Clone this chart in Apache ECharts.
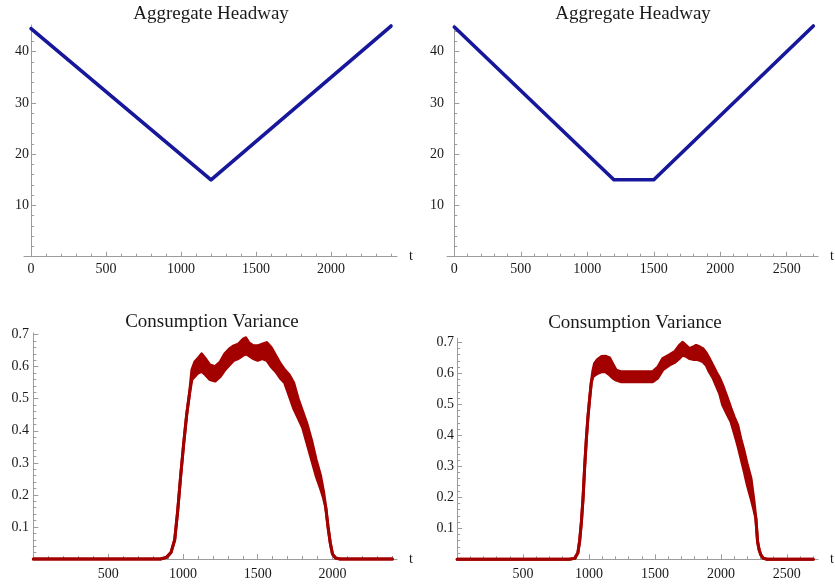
<!DOCTYPE html>
<html><head><meta charset="utf-8">
<script src="https://cdn.jsdelivr.net/npm/echarts@6/dist/echarts.min.js"></script>
<style>html,body{margin:0;padding:0;background:#fff}#c{width:835px;height:584px}</style>
</head><body><div id="c"></div>
<script>
// ---- data ----
const titles = ['Aggregate Headway', 'Aggregate Headway', 'Consumption Variance', 'Consumption Variance'];

const headwayLT = [0, 1200, 2400];
const headwayLV = [44.5, 15, 45];
const headwayRT = [0, 1200, 1500, 2700];
const headwayRV = [44.8, 15, 15, 45];

const varLT = [0, 850, 890, 920, 945, 965, 985, 1005, 1025, 1045, 1060, 1080, 1100, 1125, 1150, 1180, 1215, 1250, 1280, 1310, 1340, 1370, 1400, 1420, 1440, 1470, 1500, 1530, 1560, 1590, 1620, 1650, 1680, 1710, 1740, 1770, 1800, 1830, 1860, 1890, 1920, 1940, 1955, 1970, 1985, 2000, 2020, 2050, 2400];
const varLHigh = [0, 0, 0.005, 0.02, 0.06, 0.15, 0.26, 0.36, 0.45, 0.52, 0.59, 0.615, 0.625, 0.64, 0.625, 0.605, 0.60, 0.615, 0.64, 0.655, 0.665, 0.67, 0.685, 0.69, 0.675, 0.665, 0.665, 0.67, 0.675, 0.66, 0.635, 0.61, 0.59, 0.575, 0.55, 0.5, 0.46, 0.42, 0.37, 0.31, 0.26, 0.21, 0.16, 0.10, 0.05, 0.015, 0.003, 0, 0];
const varLLow = [0, 0, 0.005, 0.02, 0.06, 0.15, 0.26, 0.36, 0.45, 0.52, 0.56, 0.57, 0.58, 0.585, 0.575, 0.56, 0.555, 0.57, 0.59, 0.605, 0.62, 0.625, 0.635, 0.64, 0.635, 0.625, 0.62, 0.625, 0.62, 0.6, 0.585, 0.565, 0.55, 0.51, 0.47, 0.44, 0.41, 0.36, 0.31, 0.26, 0.22, 0.19, 0.16, 0.10, 0.05, 0.015, 0.003, 0, 0];

const varRT = [0, 850, 891, 915, 929, 942, 955, 967, 980, 992, 1005, 1017, 1030, 1042, 1065, 1093, 1125, 1156, 1180, 1206, 1240, 1300, 1360, 1420, 1482, 1521, 1559, 1610, 1650, 1685, 1710, 1735, 1761, 1790, 1812, 1840, 1862, 1890, 1912, 1940, 1963, 1990, 2013, 2045, 2076, 2100, 2127, 2150, 2177, 2200, 2228, 2250, 2265, 2278, 2290, 2303, 2320, 2350, 2700];
const varRHigh = [0, 0, 0.003, 0.02, 0.06, 0.12, 0.2, 0.3, 0.39, 0.46, 0.52, 0.57, 0.61, 0.632, 0.645, 0.654, 0.655, 0.65, 0.63, 0.61, 0.605, 0.605, 0.605, 0.605, 0.605, 0.62, 0.648, 0.66, 0.67, 0.69, 0.7, 0.69, 0.68, 0.685, 0.69, 0.685, 0.68, 0.665, 0.648, 0.625, 0.605, 0.585, 0.562, 0.525, 0.487, 0.46, 0.433, 0.39, 0.347, 0.305, 0.261, 0.19, 0.132, 0.057, 0.03, 0.014, 0.004, 0, 0];
const varRLow = [0, 0, 0.003, 0.02, 0.06, 0.12, 0.2, 0.3, 0.39, 0.46, 0.52, 0.57, 0.59, 0.595, 0.6, 0.605, 0.605, 0.595, 0.585, 0.578, 0.573, 0.573, 0.573, 0.573, 0.573, 0.585, 0.611, 0.627, 0.635, 0.648, 0.659, 0.655, 0.648, 0.645, 0.645, 0.642, 0.638, 0.625, 0.605, 0.585, 0.562, 0.535, 0.498, 0.47, 0.444, 0.41, 0.369, 0.33, 0.283, 0.24, 0.197, 0.16, 0.132, 0.057, 0.03, 0.014, 0.004, 0, 0];

// tick labels
const xLabelsTL = [0, 500, 1000, 1500, 2000];
const xLabelsTR = [0, 500, 1000, 1500, 2000, 2500];
const xLabelsBL = [500, 1000, 1500, 2000];
const xLabelsBR = [500, 1000, 1500, 2000, 2500];
const yLabelsTop = [10, 20, 30, 40];
const yLabelsBottom = [0.1, 0.2, 0.3, 0.4, 0.5, 0.6, 0.7];

// ---- styling / layout ----
const FONT = 'Liberation Serif';
const AX = '#9c9c9c';
const TXT = '#1a1a1a';
const BLUE = '#17179c';
const RED = '#a30000';

function minorList(max, step, majorEvery) {
  const out = [];
  for (let i = 1; i * step <= max + 1e-9; i++) {
    if (i % majorEvery !== 0) out.push(+(i * step).toFixed(4));
  }
  return out;
}
function majorList(max, step) {
  const out = [];
  for (let i = 1; i * step <= max + 1e-9; i++) out.push(+(i * step).toFixed(4));
  return out;
}

const grids = [
  {left: 24, top: 25, width: 373, height: 231.7, xmin: -47, xmax: 2440, ymin: 0, ymax: 45.2,
   xl: xLabelsTL, yl: yLabelsTop, xStep: 500, xMinStep: 100, yStep: 10, yMinStep: 2, xm: 6, ym: -5, yfmt: v => String(v)},
  {left: 447, top: 25, width: 372, height: 231.7, xmin: -55, xmax: 2736, ymin: 0, ymax: 45.2,
   xl: xLabelsTR, yl: yLabelsTop, xStep: 500, xMinStep: 100, yStep: 10, yMinStep: 2, xm: 6, ym: 3, yfmt: v => String(v)},
  {left: 32.6, top: 333, width: 364.4, height: 226, xmin: -5, xmax: 2431, ymin: 0, ymax: 0.705,
   xl: xLabelsBL, yl: yLabelsBottom, xStep: 500, xMinStep: 100, yStep: 0.1, yMinStep: 0.02, xm: 8, ym: 3.5, yfmt: v => v.toFixed(1)},
  {left: 456.5, top: 338.3, width: 362.5, height: 221, xmin: -5, xmax: 2737, ymin: 0, ymax: 0.713,
   xl: xLabelsBR, yl: yLabelsBottom, xStep: 500, xMinStep: 100, yStep: 0.1, yMinStep: 0.02, xm: 8, ym: 2.5, yfmt: v => v.toFixed(1)}
];

const option = {
  animation: false,
  backgroundColor: '#fff',
  title: [],
  grid: [],
  xAxis: [],
  yAxis: [],
  series: []
};

const titlePos = [[211, 5], [633, 5], [212, 313], [635, 314]];

grids.forEach((g, i) => {
  option.title.push({
    text: titles[i], left: titlePos[i][0], top: titlePos[i][1], textAlign: 'center', padding: 0,
    textStyle: {fontFamily: FONT, fontSize: 19, fontWeight: 'normal', color: TXT}
  });
  option.grid.push({left: g.left, top: g.top, width: g.width, height: g.height, containLabel: false});
  const xMajor = majorList(g.xmax, g.xStep);
  const xMinor = minorList(g.xmax, g.xMinStep, Math.round(g.xStep / g.xMinStep));
  const yMajor = majorList(g.ymax, g.yStep);
  const yMinor = minorList(g.ymax, g.yMinStep, Math.round(g.yStep / g.yMinStep));
  option.xAxis.push({
    type: 'value', gridIndex: i, min: g.xmin, max: g.xmax, position: 'bottom',
    axisLine: {show: true, onZero: true, lineStyle: {color: AX, width: 1}},
    axisTick: {show: true, inside: true, length: 5, customValues: xMajor, lineStyle: {color: AX}},
    minorTick: {show: false},
    axisLabel: {show: true, customValues: g.xl, margin: g.xm, fontFamily: FONT, fontSize: 14, color: TXT,
      formatter: v => String(v)},
    splitLine: {show: false},
    name: 't', nameLocation: 'end', nameGap: 12,
    nameTextStyle: {fontFamily: FONT, fontSize: 14, color: TXT}
  });
  option.xAxis.push({
    type: 'value', gridIndex: i, min: g.xmin, max: g.xmax, position: 'bottom',
    axisLine: {show: false, onZero: true},
    axisTick: {show: true, inside: true, length: 3, customValues: xMinor, lineStyle: {color: AX}},
    minorTick: {show: false},
    axisLabel: {show: false},
    splitLine: {show: false}
  });
  option.yAxis.push({
    type: 'value', gridIndex: i, min: g.ymin, max: g.ymax, position: 'left',
    axisLine: {show: true, onZero: true, onZeroAxisIndex: 2 * i, lineStyle: {color: AX, width: 1}},
    axisTick: {show: true, inside: true, length: 5, customValues: yMajor, lineStyle: {color: AX}},
    minorTick: {show: false},
    axisLabel: {show: true, customValues: g.yl, margin: g.ym, fontFamily: FONT, fontSize: 14, color: TXT,
      formatter: g.yfmt},
    splitLine: {show: false}
  });
  option.yAxis.push({
    type: 'value', gridIndex: i, min: g.ymin, max: g.ymax, position: 'left',
    axisLine: {show: false, onZero: true, onZeroAxisIndex: 2 * i},
    axisTick: {show: true, inside: true, length: 3, customValues: yMinor, lineStyle: {color: AX}},
    minorTick: {show: false},
    axisLabel: {show: false},
    splitLine: {show: false}
  });
});

function zip(a, b) { return a.map((v, k) => [v, b[k]]); }

const lineBase = {type: 'line', showSymbol: false, symbol: 'none', silent: true, clip: false};

option.series.push(Object.assign({}, lineBase, {
  xAxisIndex: 0, yAxisIndex: 0, data: zip(headwayLT, headwayLV),
  lineStyle: {color: BLUE, width: 3.6, cap: 'round', join: 'round'}
}));
option.series.push(Object.assign({}, lineBase, {
  xAxisIndex: 2, yAxisIndex: 2, data: zip(headwayRT, headwayRV),
  lineStyle: {color: BLUE, width: 3.6, cap: 'round', join: 'round'}
}));

function band(idx, t, lo, hi) {
  // filled band between the lower and upper envelopes (one quad per segment)
  const segs = [];
  for (let k = 0; k < t.length - 1; k++) {
    segs.push([t[k], lo[k], hi[k], t[k + 1], lo[k + 1], hi[k + 1]]);
  }
  option.series.push({
    type: 'custom', xAxisIndex: idx, yAxisIndex: idx, silent: true, clip: false,
    data: segs,
    encode: {x: [0, 3], y: [1, 2, 4, 5]},
    renderItem: function (params, api) {
      const a = api.coord([api.value(0), api.value(1)]);
      const b = api.coord([api.value(0), api.value(2)]);
      const c = api.coord([api.value(3), api.value(5)]);
      const d = api.coord([api.value(3), api.value(4)]);
      return {type: 'polygon', shape: {points: [a, b, c, d]},
        style: {fill: RED, stroke: RED, lineWidth: 1.2, lineJoin: 'round'}};
    }
  });
  option.series.push(Object.assign({}, lineBase, {
    xAxisIndex: idx, yAxisIndex: idx, data: zip(t, lo),
    lineStyle: {color: RED, width: 3, cap: 'round', join: 'round'}
  }));
  option.series.push(Object.assign({}, lineBase, {
    xAxisIndex: idx, yAxisIndex: idx, data: zip(t, hi),
    lineStyle: {color: RED, width: 3, cap: 'round', join: 'round'}
  }));
}
band(4, varLT, varLLow, varLHigh);
band(6, varRT, varRLow, varRHigh);

const chart = echarts.init(document.getElementById('c'), null, {renderer: 'canvas'});
chart.setOption(option);
</script>
</body></html>
